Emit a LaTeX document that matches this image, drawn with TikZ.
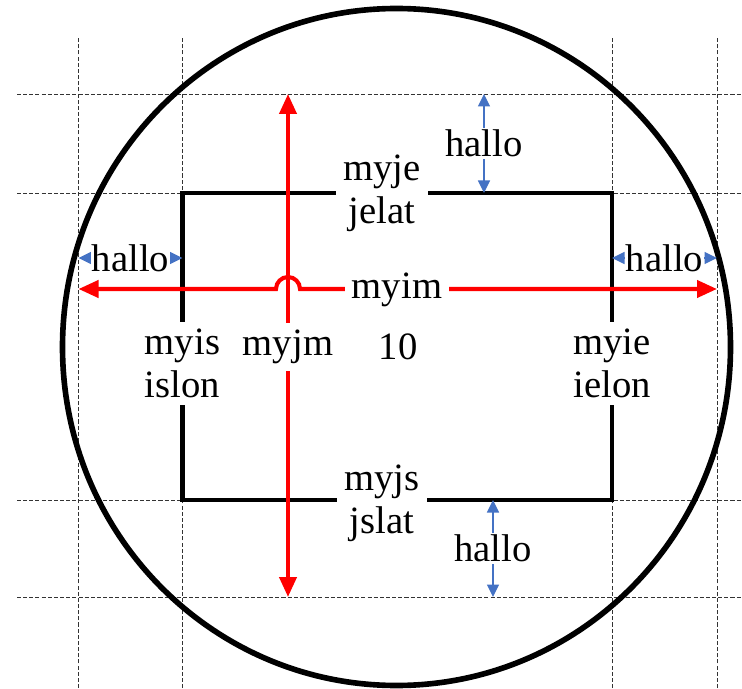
\documentclass[tikz,border=0pt]{standalone}
\usepackage{fontspec}
\setmainfont{Liberation Serif}
\usepackage{xcolor}
\usetikzlibrary{arrows.meta}
\definecolor{dimblue}{RGB}{68,114,196}

\begin{document}
\begin{tikzpicture}[>={Triangle[length=0.4cm,width=0.34cm]},
  gridln/.style={black!80,line width=0.55pt,dash pattern=on 2.3pt off 1.2pt},
  redarr/.style={<->,red,line width=2.3pt},
  dimarr/.style={{Triangle[length=0.25cm,width=0.24cm]}-{Triangle[length=0.25cm,width=0.24cm]},dimblue,line width=0.85pt},
  txt/.style={font=\fontsize{22}{24.5}\selectfont,align=center,text=black},
  lbl/.style={txt,fill=white,inner sep=4pt},
  hallo/.style={txt,fill=white,inner xsep=0.4pt,inner ysep=1pt}]
  \useasboundingbox (0,0) rectangle (14.84,13.76);
  \foreach \x in {1.57,3.65,12.24,14.34}
    \draw[gridln] (\x,0) -- (\x,13.0);
  \foreach \y in {1.82,3.76,9.9,11.88}
    \draw[gridln] (0.34,\y) -- (14.84,\y);
  \draw[line width=3.2pt] (7.93,6.82) ellipse (6.68 and 6.77);
  \draw[line width=2.3pt] (3.65,3.76) rectangle (12.24,9.9);
  \coordinate (W) at (1.57,7.98);
  \coordinate (E) at (14.34,7.98);
  \coordinate (N) at (5.76,11.88);
  \coordinate (S) at (5.76,1.82);
  \draw[redarr] (N) -- (S);
  \draw[redarr] (W) -- (5.52,7.98) arc[start angle=180,end angle=0,radius=0.24] -- (E);
  \coordinate (ht1) at (9.68,11.88);
  \coordinate (ht2) at (9.68,9.9);
  \coordinate (hb1) at (9.86,3.76);
  \coordinate (hb2) at (9.86,1.82);
  \coordinate (hl1) at (1.57,8.6);
  \coordinate (hl2) at (3.65,8.6);
  \coordinate (hr1) at (12.24,8.6);
  \coordinate (hr2) at (14.34,8.6);
  \draw[dimarr] (ht1) -- (ht2) node[midway,hallo] (hallot) {hallo};
  \draw[dimarr] (hb1) -- (hb2) node[midway,hallo] (hallob) {hallo};
  \draw[dimarr] (hl1) -- (hl2) node[midway,hallo] (hallol) {hallo};
  \draw[dimarr] (hr1) -- (hr2) node[midway,hallo] (hallor) {hallo};
  \node[lbl] (myje) at (7.64,9.89) {myje\\jelat};
  \node[lbl] (myjs) at (7.64,3.69) {myjs\\jslat};
  \node[lbl] (myis) at (3.65,6.49) {myis\\islon};
  \node[lbl] (myie) at (12.24,6.49) {myie\\ielon};
  \node[lbl] (myim) at (7.94,7.96) {myim};
  \node[lbl] (myjm) at (5.76,6.82) {myjm};
  \node[txt] (ten) at (7.96,6.82) {10};
\end{tikzpicture}
\end{document}
